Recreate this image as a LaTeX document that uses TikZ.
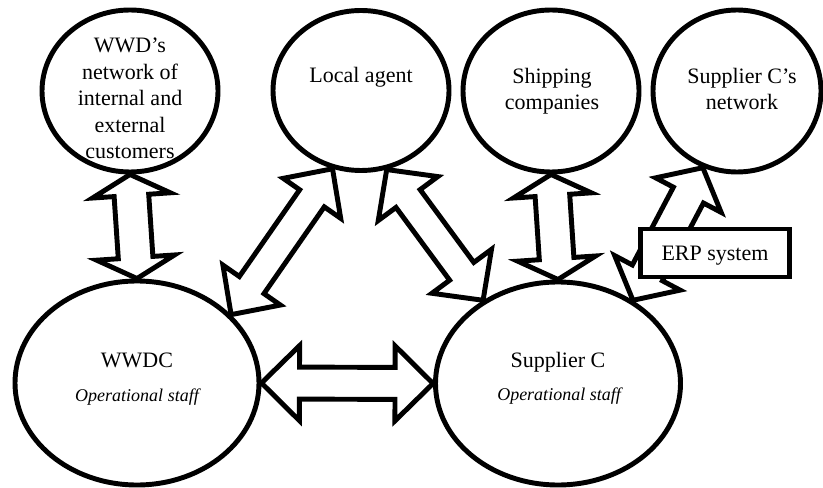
\documentclass[tikz,border=0pt]{standalone}
\usepackage{fontspec}
\setmainfont{Liberation Serif}
\usetikzlibrary{calc,shapes.geometric}

% Block double arrow between two tips:
% #1, #2 tips; #3 head length; #4 head half-width; #5 shaft half-width
\newcommand\blockbiarrow[5]{%
  \draw[blockarrow]
    (#1)
    -- ($(#1)!#3!(#2)!#4!90:(#2)$)
    -- ($(#1)!#3!(#2)!#5!90:(#2)$)
    -- ($(#2)!#3!(#1)!#5!-90:(#1)$)
    -- ($(#2)!#3!(#1)!#4!-90:(#1)$)
    -- (#2)
    -- ($(#2)!#3!(#1)!#4!90:(#1)$)
    -- ($(#2)!#3!(#1)!#5!90:(#1)$)
    -- ($(#1)!#3!(#2)!#5!-90:(#2)$)
    -- ($(#1)!#3!(#2)!#4!-90:(#2)$)
    -- cycle;}

\begin{document}
\begin{tikzpicture}[
    x=0.75pt, y=-0.75pt,
    bubble/.style={ellipse, draw, line width=3.7pt, inner sep=0pt},
    blockarrow/.style={draw, fill=white, line width=3.7pt, line join=miter},
    txt/.style={inner sep=0pt, font=\fontsize{16.5}{19.8}\selectfont},
    stafftxt/.style={inner sep=0pt, font=\fontsize{13.5}{16.2}\selectfont\itshape},
    erpbox/.style={rectangle, draw, fill=white, line width=3.7pt,
      minimum width=112pt, minimum height=36pt, text depth=0pt,
      font=\fontsize{16.5}{19.8}\selectfont}
  ]
  \useasboundingbox (0,0) rectangle (823,488);

  % actors
  \node[bubble, minimum width=132pt, minimum height=121.5pt] (wwdnet) at (130,91) {};
  \node[bubble, minimum width=132pt, minimum height=120pt] (agent) at (361,90.5) {};
  \node[bubble, minimum width=132pt, minimum height=121.5pt] (shipping) at (551,91) {};
  \node[bubble, minimum width=126pt, minimum height=121.5pt] (scnet) at (737,91) {};
  \node[bubble, minimum width=183pt, minimum height=153pt] (wwdc) at (137,383) {};
  \node[bubble, minimum width=183.75pt, minimum height=152.25pt] (supc) at (558,383.5) {};

  % labels
  \node[txt, align=center] (wwdnet-t) at (130,98.5)
    {WWD’s\\network of\\internal and\\external\\customers};
  \node[txt] (agent-t) at (361,77) {Local agent};
  \node[txt, align=center] (shipping-t) at (552,91) {Shipping\\companies};
  \node[txt, align=center] (scnet-t) at (742,88.7) {Supplier C’s\\network};
  \node[txt, anchor=base] (wwdc-t) at (137,367) {WWDC};
  \node[stafftxt, anchor=base] (wwdc-s) at (137,401) {Operational staff};
  \node[txt, anchor=base] (supc-t) at (558,367) {Supplier C};
  \node[stafftxt, anchor=base] (supc-s) at (559,400.5) {Operational staff};

  % relationships
  \blockbiarrow{wwdnet.south}{wwdc.north}{15.75pt}{29.25pt}{13pt}
  \blockbiarrow{agent.250}{wwdc.36}{27pt}{26.25pt}{11.25pt}
  \blockbiarrow{agent.288}{supc.132}{27pt}{27.75pt}{11.25pt}
  \blockbiarrow{shipping.south}{supc.north}{15.75pt}{29.25pt}{13pt}
  \blockbiarrow{wwdc.east}{supc.west}{28.5pt}{28.1pt}{12pt}
  \blockbiarrow{scnet.246}{supc.48}{23.25pt}{27.75pt}{12.75pt}

  % system sitting on the supplier link
  \node[erpbox] (erp) at (715,253) {ERP system};
\end{tikzpicture}
\end{document}
